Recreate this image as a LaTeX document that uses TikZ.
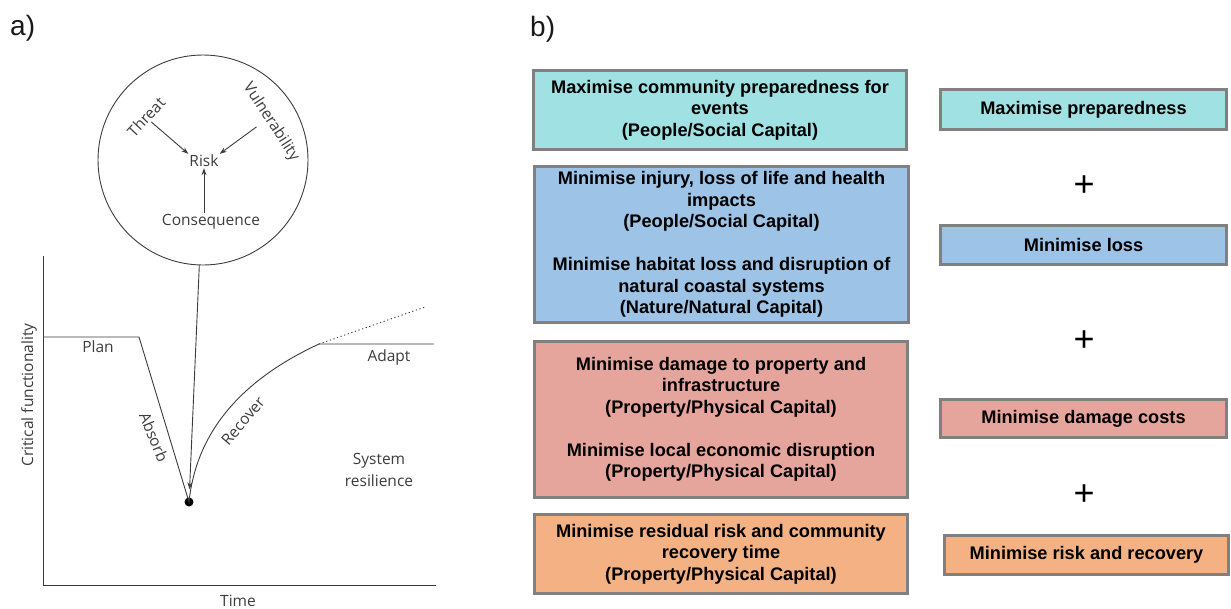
\documentclass[tikz,border=0pt]{standalone}
\usepackage{fontspec}
\setmainfont{Liberation Sans}
\newfontfamily\figfont{Open Sans}
\usetikzlibrary{arrows.meta,calc}
\definecolor{cteal}{HTML}{A0E1E3}
\definecolor{cblue}{HTML}{9DC3E6}
\definecolor{cred}{HTML}{E6A59C}
\definecolor{corange}{HTML}{F4B183}
\definecolor{cframe}{HTML}{808080}
\definecolor{cink}{HTML}{3C3C3C}

\begin{document}
\begin{tikzpicture}[x=1pt,y=-1pt,
  lbl/.style={font=\figfont\fontsize{15.5}{22}\selectfont, text=cink, inner sep=1pt},
  curve/.style={draw=cink, line width=0.9pt},
  arr/.style={cink, line width=0.9pt, -{Stealth[length=7pt,width=5pt]}},
  goal/.style={draw=cframe, line width=3pt, align=center, inner sep=0pt,
    font=\bfseries\fontsize{18.2}{21.5}\selectfont},
  plus/.style={font=\fontsize{36}{36}\selectfont, inner sep=0pt},
  panel/.style={font=\fontsize{28}{28}\selectfont, text=black!90, anchor=base west, inner sep=0pt}]

\useasboundingbox (0,0) rectangle (1231,608);

% ---------- panel a: resilience curve ----------
\node[panel] (pa) at (10,35) {a)};

\draw[curve] (43,256) -- (43,585) -- (436,585);
\node[lbl, rotate=90] (ylab) at (29,395) {Critical functionality};
\node[lbl] (xlab) at (238,601) {Time};

% risk triangle inside the circle
\node[draw=cink, line width=0.9pt, circle, minimum size=210pt, inner sep=0pt] (circ) at (203,160) {};
\node[lbl] (risk) at (204,161) {Risk};
\node[lbl, rotate=47] (thr) at (146,117) {Threat};
\node[lbl, rotate=-57] (vul) at (271,122) {Vulnerability};
\node[lbl] (cons) at (211,222) {Consequence};
\draw[arr] (thr.south) -- (risk.north west);
\draw[arr] ([xshift=-7pt]vul.south) -- (risk.north east);
\draw[arr] (risk.south |- cons.north) -- (risk.south);

% functionality over time
\coordinate (p0) at (43,337);
\coordinate (p1) at (139,337);
\node[circle, fill=black, inner sep=0pt, minimum size=9pt] (dot) at (189,502) {};
\coordinate (p2) at (319,344);
\coordinate (p3) at (434,344);
\coordinate (p4) at (425,307);
\draw[curve] (p0) -- (p1) -- (dot.center) .. controls (197,425) and (250,376) .. (p2) -- (p3);
\draw[curve, dash pattern=on 1.2pt off 2.6pt] (p2) -- (p4);
\draw[arr, shorten >=8pt] (circ.268) -- (dot);

\node[lbl] (plan) at (98,347) {Plan};
\node[lbl, rotate=-68] (absorb) at (154,437) {Absorb};
\node[lbl, rotate=50] (recover) at (243,421) {Recover};
\node[lbl] (adapt) at (389,357) {Adapt};
\node[lbl, align=center] (sysres) at (379,470) {System\\resilience};

% ---------- panel b: objectives ----------
\node[panel] (pb) at (530,36) {b)};

\node[goal, fill=cteal, minimum width=373pt, minimum height=79pt] (g1) at (720,110)
  {Maximise community preparedness for\\events\\(People/Social Capital)};
\node[goal, fill=cblue, minimum width=374pt, minimum height=156pt] (g2) at (721.5,244.5)
  {Minimise injury, loss of life and health\\impacts\\(People/Social Capital)\\[21.5pt]
   Minimise habitat loss and disruption of\\natural coastal systems\\(Nature/Natural Capital)};
\node[goal, fill=cred, minimum width=373pt, minimum height=156pt] (g3) at (721,419.5)
  {Minimise damage to property and\\infrastructure\\(Property/Physical Capital)\\[21.5pt]
   Minimise local economic disruption\\(Property/Physical Capital)};
\node[goal, fill=corange, minimum width=373pt, minimum height=79pt] (g4) at (721,554)
  {Minimise residual risk and community\\recovery time\\(Property/Physical Capital)};

\node[goal, fill=cteal, minimum width=286pt, minimum height=40pt] (s1) at (1083.5,109.5) {Maximise preparedness};
\node[goal, fill=cblue, minimum width=286pt, minimum height=39pt] (s2) at (1083.5,245) {Minimise loss};
\node[goal, fill=cred, minimum width=286pt, minimum height=38pt] (s3) at (1083.5,418.5) {Minimise damage costs};
\node[goal, fill=corange, minimum width=284pt, minimum height=39pt] (s4) at (1086.5,555) {Minimise risk and recovery};

\node[plus] (pl1) at (1084,186) {+};
\node[plus] (pl2) at (1084,341) {+};
\node[plus] (pl3) at (1084,495) {+};
\end{tikzpicture}
\end{document}
